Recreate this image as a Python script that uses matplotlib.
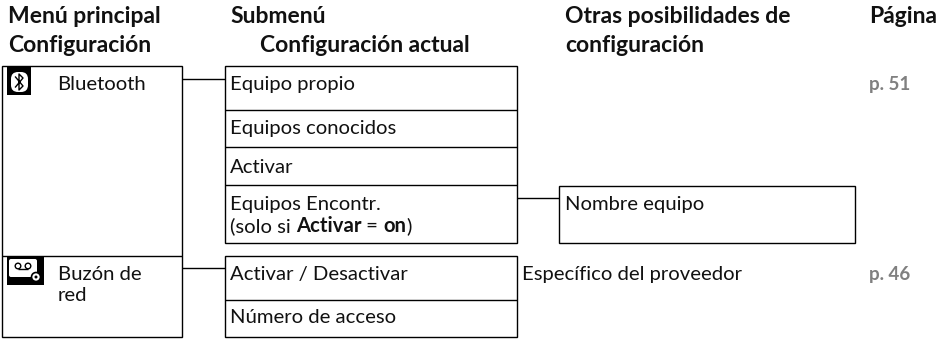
import matplotlib
matplotlib.use('Agg')
import matplotlib.pyplot as plt
from matplotlib.patches import Rectangle, FancyBboxPatch, Circle

plt.rcParams['font.family'] = ['Lato', 'DejaVu Sans']

headers = [(8, 23, 'Menú principal'), (8, 52, 'Configuración'),
           (230, 23, 'Submenú'), (260, 52, 'Configuración actual'),
           (565, 23, 'Otras posibilidades de'), (565, 52, 'configuración'),
           (869, 23, 'Página')]
main_menu = ['Bluetooth', 'Buzón de', 'red']
sub_bluetooth = ['Equipo propio', 'Equipos conocidos', 'Activar', 'Equipos Encontr.']
sub_buzon = ['Activar / Desactivar', 'Número de acceso']
pages = ['p. 51', 'p. 46']

fig = plt.figure(figsize=(9.52, 3.39), dpi=100)
ax = fig.add_axes([0, 0, 1, 1])
ax.set_xlim(0, 952)
ax.set_ylim(339, 0)
ax.axis('off')

ink = '#111111'


def box(x0, y0, x1, y1):
    ax.add_patch(Rectangle((x0, y0), x1 - x0, y1 - y0, fc='none', ec='black', lw=1.0))


def hline(x0, x1, y):
    ax.plot([x0, x1], [y, y], color='black', lw=1.0, solid_capstyle='butt')


for x, y, t in headers:
    ax.text(x, y, t, fontsize=16.5, fontweight='bold', va='baseline', ha='left', color=ink)

# left column
box(1.5, 65.5, 181.5, 337)
hline(1.5, 181.5, 255.5)
# submenu
box(224.5, 65.5, 516.5, 243)
hline(224.5, 516.5, 110)
hline(224.5, 516.5, 147)
hline(224.5, 516.5, 185)
box(224.5, 255.5, 516.5, 337)
hline(224.5, 516.5, 300)
box(558.5, 185.5, 854.5, 243)
# connectors
hline(181.5, 224.5, 78.5)
hline(181.5, 224.5, 268)
hline(516.5, 558.5, 198)

fs = 14.6
for y, t in zip([90, 280, 301], main_menu):
    ax.text(57.5, y, t, fontsize=fs, va='baseline', color=ink)
for y, t in zip([90, 134, 173, 210], sub_bluetooth):
    ax.text(230, y, t, fontsize=fs, va='baseline', color=ink)

# mixed weight line, each run starts where the last one ended
renderer = fig.canvas.get_renderer()
x = 230
for s, w in [('(solo si ', 'normal'), ('Activar', 'bold'), (' = ', 'normal'), ('on', 'bold'), (')', 'normal')]:
    t = ax.text(x, 232, s, fontsize=fs, fontweight=w, va='baseline', color=ink)
    x += t.get_window_extent(renderer).width

for y, t in zip([280, 323], sub_buzon):
    ax.text(230, y, t, fontsize=fs, va='baseline', color=ink)
ax.text(565, 210, 'Nombre equipo', fontsize=fs, va='baseline', color=ink)
ax.text(522, 280, 'Específico del proveedor', fontsize=fs, va='baseline', color=ink)
for y, t in zip([90, 280], pages):
    ax.text(869, y, t, fontsize=13.5, fontweight='bold', va='baseline', color='#808080')

# icons
ax.add_patch(Rectangle((7, 67), 24, 28, fc='black', ec='none'))
ax.add_patch(FancyBboxPatch((11, 72), 17, 20, boxstyle='round,pad=0,rounding_size=7', fc='white', ec='none'))
ax.plot([15.5, 23, 19, 19, 23, 15.5], [77, 86, 90, 74, 78, 87], color='black', lw=1.0)
ax.add_patch(Rectangle((7, 257), 37, 28, fc='black', ec='none'))
ax.add_patch(FancyBboxPatch((9, 259), 28, 18, boxstyle='round,pad=0,rounding_size=2', fc='white', ec='none'))
for cx in (18, 28):
    ax.add_patch(Circle((cx, 266), 2.8, fc='none', ec='black', lw=1.0))
hline(18, 28, 269)
ax.add_patch(Circle((36, 277), 4.5, fc='white', ec='black', lw=1.2))
ax.add_patch(Circle((36, 277), 1.5, fc='black', ec='none'))

fig.savefig('out.png', dpi=100)
